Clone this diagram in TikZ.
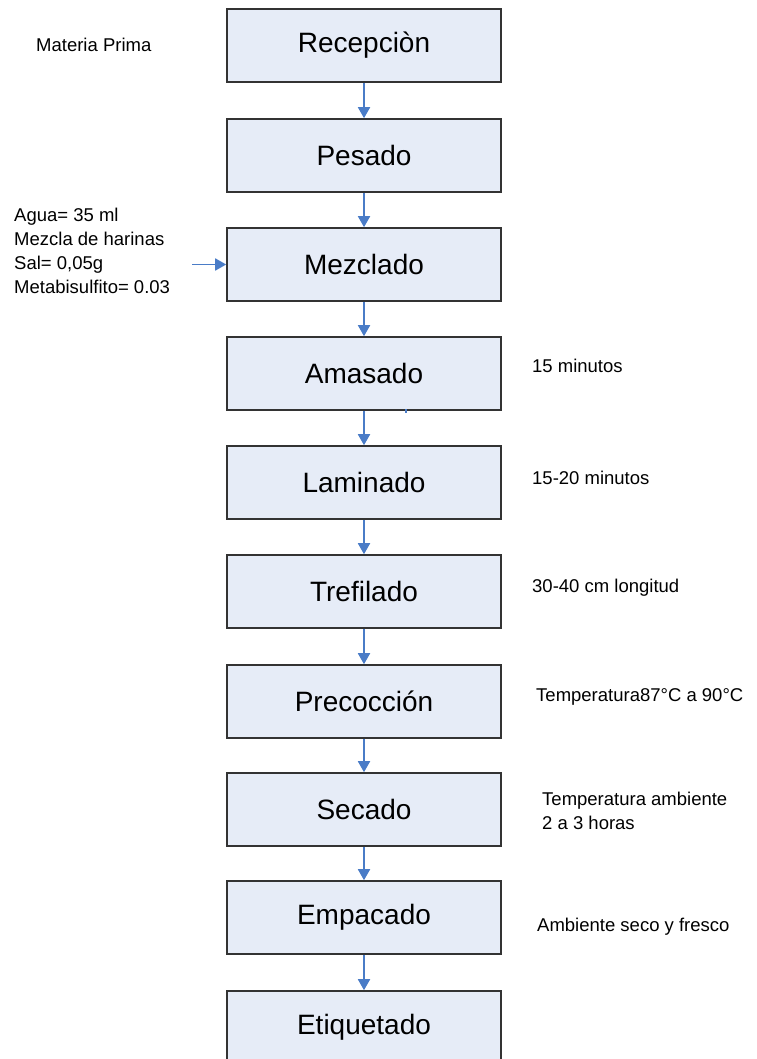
\documentclass[tikz,border=0pt]{standalone}
\usepackage{fontspec}
\setmainfont{Liberation Sans}
\usetikzlibrary{arrows.meta}
\definecolor{boxfill}{HTML}{E6ECF7}
\definecolor{flowblue}{HTML}{4A7CC7}

\begin{document}
\begin{tikzpicture}[x=1pt,y=-1pt,box/.style={draw=black!80,line width=1.6pt,fill=boxfill,minimum width=274pt,minimum height=73pt,inner sep=0pt,font=\fontsize{28}{32}\selectfont},note/.style={anchor=west,align=left,inner sep=0pt,font=\fontsize{18.5}{24}\selectfont},a/.style={-{Triangle[length=11pt,width=12pt]},draw=flowblue,line width=1.8pt}]
\useasboundingbox (0,0) rectangle (756,1059);
\node[box] (recep) at (364,45.5) {Recepciòn};
\node[box] (pesado) at (364,155.5) {Pesado};
\node[box] (mezcla) at (364,264.5) {Mezclado};
\node[box] (amasa) at (364,373.5) {Amasado};
\node[box] (lamina) at (364,482.5) {Laminado};
\node[box] (trefi) at (364,591.5) {Trefilado};
\node[box] (precoc) at (364,701.5) {Precocción};
\node[box] (secado) at (364,809.5) {Secado};
\node[box] (empaca) at (364,917.5) {Empacado};
\node[box] (etiq) at (364,1027.5) {Etiquetado};
\draw[a] (recep)--(pesado); \draw[a] (pesado)--(mezcla); \draw[a] (mezcla)--(amasa);
\draw[a] (amasa)--(lamina); \draw[a] (lamina)--(trefi); \draw[a] (trefi)--(precoc);
\draw[a] (precoc)--(secado); \draw[a] (secado)--(empaca); \draw[a] (empaca)--(etiq);
% notes on the left
\node[note] (mp) at (36,45) {Materia Prima};
\node[note] (insumos) at (14,251) {Agua= 35 ml\\Mezcla de harinas\\Sal= 0,05g\\Metabisulfito= 0.03};
\coordinate (entrada) at (192,264.5);
\draw[a] (entrada)--(mezcla);
% notes on the right
\node[note] (t1) at (532,366) {15 minutos};
\node[note] (t2) at (532,478) {15-20 minutos};
\node[note] (t3) at (532,588) {30-40 cm longitud};
\node[note] (t4) at (536,697) {Temperatura87°C a 90°C};
\node[note] (t5) at (542,811) {Temperatura ambiente\\2 a 3 horas};
\node[note] (t6) at (537,927) {Ambiente seco y fresco};
\fill[flowblue] (404.5,409) rectangle (406.5,413);
\end{tikzpicture}
\end{document}
